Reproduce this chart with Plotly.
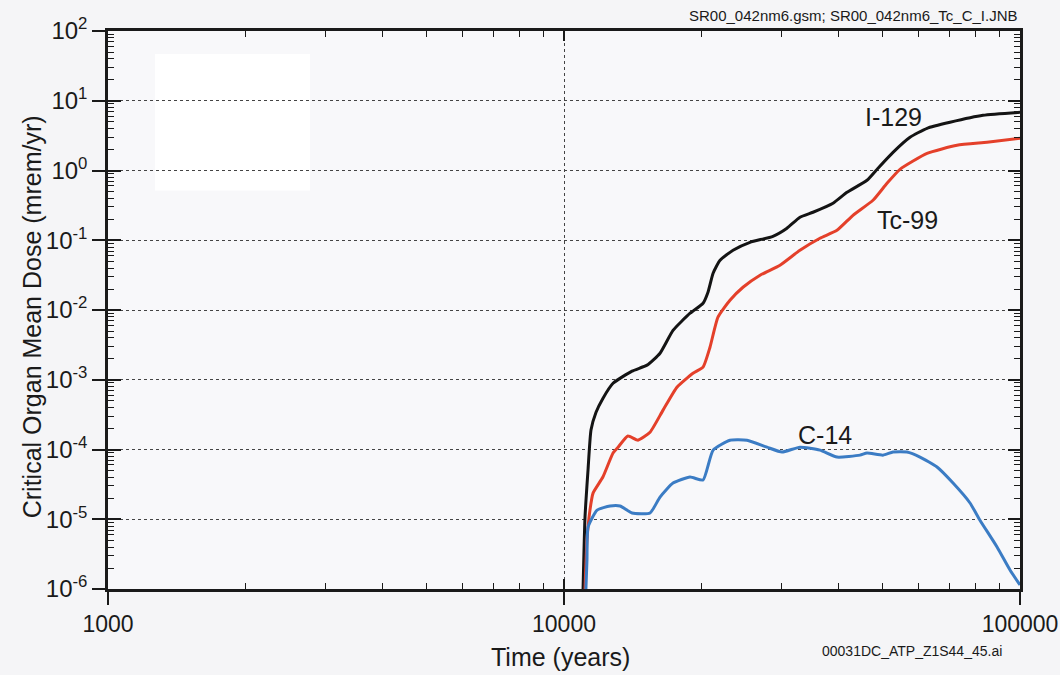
import math
import plotly.graph_objects as go

# Time (years) and dose (mrem/yr) for each radionuclide
i129_t = [11010, 11120, 11290, 11460, 11750, 12170, 12810, 14100, 15210, 16240,
          17340, 18900, 20180, 20690, 21230, 21990, 23480, 25580, 28720, 30830,
          32920, 35160, 38900, 41750, 46180, 48830, 52670, 57390, 62540, 70240,
          82970, 100000]
i129_d = [1.0e-6, 1.08e-5, 5.1e-5, 1.9e-4, 3.4e-4, 5.4e-4, 8.9e-4, 1.33e-3, 1.62e-3, 2.4e-3,
          5.1e-3, 9.0e-3, 1.25e-2, 1.8e-2, 3.37e-2, 5.17e-2, 7.2e-2, 9.35e-2, 0.114, 0.149,
          0.214, 0.252, 0.339, 0.487, 0.724, 1.08, 1.82, 2.99, 4.03, 4.91,
          6.18, 6.82]

tc99_t = [11120, 11230, 11400, 11580, 12170, 12810, 13140, 13810, 14530, 15440,
          16490, 17690, 19180, 20180, 20900, 21760, 23120, 24690, 26910, 29760,
          32920, 36420, 39690, 43030, 47600, 51090, 54560, 62540, 72750, 84660,
          100000]
tc99_d = [1.0e-6, 5.0e-6, 1.35e-5, 2.37e-5, 4.03e-5, 8.9e-5, 1.08e-4, 1.56e-4, 1.36e-4, 1.77e-4,
          3.67e-4, 7.83e-4, 1.24e-3, 1.52e-3, 2.93e-3, 7.9e-3, 1.38e-2, 2.12e-2, 3.15e-2, 4.39e-2,
          7.2e-2, 0.107, 0.139, 0.228, 0.374, 0.656, 1.04, 1.76, 2.30, 2.54,
          2.89]

c14_t = [11170, 11230, 11290, 11820, 12620, 13270, 14100, 15440, 16240, 17340,
         18900, 20180, 21230, 23120, 25190, 27870, 30070, 32920, 36420, 39690,
         44590, 46180, 50070, 52670, 56520, 60350, 65770, 71310, 77690, 81700,
         89050, 95080, 100000]
c14_d = [1.0e-6, 2.6e-6, 7.7e-6, 1.35e-5, 1.55e-5, 1.55e-5, 1.23e-5, 1.23e-5, 2.08e-5, 3.30e-5,
         4.03e-5, 3.65e-5, 9.8e-5, 1.36e-4, 1.36e-4, 1.08e-4, 9.2e-5, 1.08e-4, 9.8e-5, 7.8e-5,
         8.3e-5, 8.9e-5, 8.3e-5, 9.2e-5, 9.2e-5, 7.8e-5, 5.6e-5, 3.3e-5, 1.71e-5, 9.7e-6,
         4.0e-6, 1.87e-6, 1.14e-6]

series_names = ["I-129", "Tc-99", "C-14"]
series_colors = ["#141414", "#e4402a", "#3b7cc4"]
label_pos = [(52670, 5.8), (56520, 0.194), (37360, 1.61e-4)]

x_ticks = [1000, 10000, 100000]
x_ticktext = ["1000", "10000", "100000"]
y_exps = [-6, -5, -4, -3, -2, -1, 0, 1, 2]
y_ticks = [10.0 ** e for e in y_exps]
y_ticktext = ["10<sup>%d</sup>" % e for e in y_exps]

x_minor = [m * 10 ** k for k in (3, 4) for m in range(2, 10)]
y_minor = [m * 10.0 ** k for k in range(-6, 2) for m in range(2, 10)]

FONT = "Liberation Sans, Arial, sans-serif"
INK = "#1a1a1a"

fig = go.Figure()
for t, d, name, color in zip([i129_t, tc99_t, c14_t], [i129_d, tc99_d, c14_d],
                             series_names, series_colors):
    fig.add_trace(go.Scatter(x=t, y=d, mode="lines", name=name,
                             line=dict(color=color, width=3, shape="spline",
                                       smoothing=0.5),
                             showlegend=False))

# empty traces so the extra tick-only axes are laid out
fig.add_trace(go.Scatter(x=[], y=[], xaxis="x2", yaxis="y2", showlegend=False))
fig.add_trace(go.Scatter(x=[], y=[], xaxis="x3", yaxis="y3", showlegend=False))

xrange = [3, 5]
yrange = [-6, 2]

fig.update_layout(
    width=1060, height=675,
    margin=dict(l=108, r=40, t=31, b=86),
    paper_bgcolor="#f5f5f7",
    plot_bgcolor="#f8f8fa",
    font=dict(family=FONT, color=INK),
    xaxis=dict(type="log", range=xrange, tickmode="array", tickvals=x_ticks,
               ticktext=x_ticktext, ticks="outside", ticklen=13, tickwidth=2,
               tickcolor=INK, tickfont=dict(size=23, color=INK),
               ticklabeloverflow="allow",
               showline=True, linewidth=2.5, linecolor=INK,
               showgrid=True, gridcolor="#444", griddash="dot", gridwidth=1.2,
               zeroline=False, automargin=False,
               minor=dict(tickmode="array", tickvals=x_minor, ticks="inside",
                          ticklen=6, tickwidth=1.2, tickcolor=INK, showgrid=False)),
    yaxis=dict(type="log", range=yrange, tickmode="array", tickvals=y_ticks,
               ticktext=y_ticktext, ticks="outside", ticklen=13, tickwidth=2,
               tickcolor=INK, tickfont=dict(size=24, color=INK),
               ticklabeloverflow="allow",
               showline=True, linewidth=2.5, linecolor=INK,
               showgrid=True, gridcolor="#444", griddash="dot", gridwidth=1.2,
               zeroline=False, automargin=False,
               minor=dict(tickmode="array", tickvals=y_minor, ticks="inside",
                          ticklen=6, tickwidth=1.2, tickcolor=INK, showgrid=False)),
    # top and right frame with inward ticks
    xaxis2=dict(type="log", range=xrange, overlaying="x", side="top", anchor="y",
                tickmode="array", tickvals=x_ticks, ticks="inside", ticklen=10,
                tickwidth=2, tickcolor=INK, showticklabels=False,
                showline=True, linewidth=2.5, linecolor=INK, showgrid=False,
                zeroline=False, automargin=False,
                minor=dict(tickmode="array", tickvals=x_minor, ticks="inside",
                           ticklen=6, tickwidth=1.2, tickcolor=INK, showgrid=False)),
    yaxis2=dict(type="log", range=yrange, overlaying="y", side="right", anchor="x",
                tickmode="array", tickvals=y_ticks, ticks="inside", ticklen=12,
                tickwidth=2, tickcolor=INK, showticklabels=False,
                showline=True, linewidth=2.5, linecolor=INK, showgrid=False,
                zeroline=False, automargin=False,
                minor=dict(tickmode="array", tickvals=y_minor, ticks="inside",
                           ticklen=6, tickwidth=1.2, tickcolor=INK, showgrid=False)),
    # inner halves of the major ticks on the left and bottom
    xaxis3=dict(type="log", range=xrange, overlaying="x", side="bottom", anchor="y",
                tickmode="array", tickvals=x_ticks, ticks="inside", ticklen=10,
                tickwidth=2, tickcolor=INK, showticklabels=False,
                showline=False, showgrid=False, zeroline=False, automargin=False),
    yaxis3=dict(type="log", range=yrange, overlaying="y", side="left", anchor="x",
                tickmode="array", tickvals=y_ticks, ticks="inside", ticklen=13,
                tickwidth=2, tickcolor=INK, showticklabels=False,
                showline=False, showgrid=False, zeroline=False, automargin=False),
)

# blank panel in the upper left
fig.add_shape(type="rect", xref="paper", yref="paper",
              x0=0.0515, x1=0.2215, y0=0.714, y1=0.959,
              fillcolor="#ffffff", line=dict(width=0), layer="between")

annotations = []
for name, (lx, ly) in zip(series_names, label_pos):
    annotations.append(dict(x=math.log10(lx), y=math.log10(ly), xref="x", yref="y",
                            text=name, showarrow=False,
                            font=dict(size=25, color=INK, family=FONT)))

annotations += [
    dict(text="Time (years)", x=0.4967, y=-0.1218, xref="paper", yref="paper",
         showarrow=False, xanchor="center", yanchor="middle",
         font=dict(size=25, color=INK, family=FONT)),
    dict(text="Critical Organ Mean Dose (mrem/yr)", x=-0.0833, y=0.487,
         xref="paper", yref="paper", showarrow=False, textangle=-90,
         xanchor="center", yanchor="middle",
         font=dict(size=25, color=INK, family=FONT)),
    dict(text="SR00_042nm6.gsm; SR00_042nm6_Tc_C_I.JNB", x=1.0, y=1.028,
         xref="paper", yref="paper", showarrow=False, xanchor="right",
         yanchor="middle", font=dict(size=15, color=INK, family=FONT)),
    dict(text="00031DC_ATP_Z1S44_45.ai", x=0.8816, y=-0.111,
         xref="paper", yref="paper", showarrow=False, xanchor="center",
         yanchor="middle", font=dict(size=14, color=INK, family=FONT)),
]
fig.update_layout(annotations=annotations)

fig.write_html("out.html")
